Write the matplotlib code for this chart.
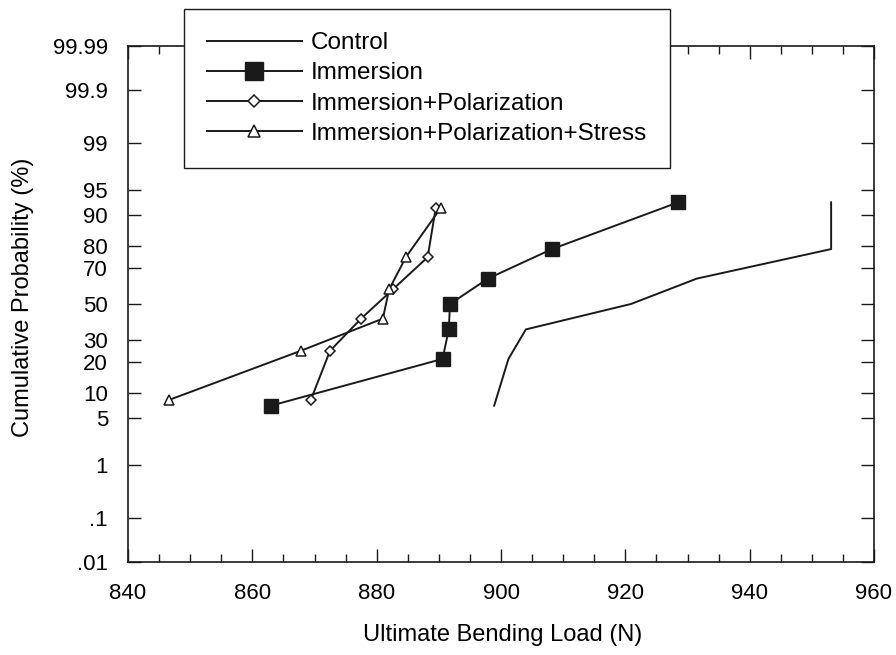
import numpy as np
import matplotlib
matplotlib.use('Agg')
import matplotlib.pyplot as plt
from matplotlib.ticker import FixedLocator, MultipleLocator, NullLocator
from statistics import NormalDist

plt.rcParams['font.family'] = ['Liberation Sans', 'DejaVu Sans']

# cumulative probability (%) for each rank
prob6 = [8.33, 25.0, 41.67, 58.33, 75.0, 91.67]
prob7 = [7.14, 21.43, 35.71, 50.0, 64.29, 78.57, 92.86]

control = [898.9, 901.2, 904.0, 920.9, 931.5, 953.1, 953.1]
immersion = [863.0, 890.6, 891.6, 891.8, 897.9, 908.2, 928.5]
imm_pol = [869.4, 872.5, 877.5, 882.6, 888.2, 889.5]
imm_pol_stress = [846.6, 867.8, 881.0, 882.0, 884.7, 890.3]

ytick_vals = [0.01, 0.1, 1, 5, 10, 20, 30, 50, 70, 80, 90, 95, 99, 99.9, 99.99]
ytick_labels = ['.01', '.1', '1', '5', '10', '20', '30', '50', '70', '80', '90', '95', '99', '99.9', '99.99']

nd = NormalDist()


def _p2z(p):
    if not np.isfinite(p):
        return np.nan
    return nd.inv_cdf(min(max(p / 100.0, 1e-9), 1 - 1e-9))


def _z2p(z):
    if not np.isfinite(z):
        return np.nan
    return nd.cdf(z) * 100.0


_ppf = np.vectorize(_p2z, otypes=[float])
_cdf = np.vectorize(_z2p, otypes=[float])


def fwd(p):
    return _ppf(np.asarray(p, dtype=float))


def inv(z):
    return _cdf(np.asarray(z, dtype=float))


fig = plt.figure(figsize=(8.96, 6.55), dpi=100)
ax = fig.add_axes([128 / 896, 1 - 562 / 655, (874 - 128) / 896, (562 - 46) / 655])
ax.set_yscale('function', functions=(fwd, inv))

lc = '#1a1a1a'
ax.plot(control, prob7, color=lc, lw=1.4, label='Control')
ax.plot(immersion, prob7, color=lc, lw=1.4, marker='s', ms=9.4, mfc=lc, mec=lc,
        label='Immersion')
ax.plot(imm_pol, prob6, color=lc, lw=1.4, marker='D', ms=4.8, mfc='white', mec=lc,
        mew=1.1, label='Immersion+Polarization')
ax.plot(imm_pol_stress, prob6, color=lc, lw=1.4, marker='^', ms=6.8, mfc='white', mec=lc,
        mew=1.1, label='Immersion+Polarization+Stress')

ax.set_xlim(840, 960)
ax.set_ylim(0.01, 99.99)
ax.xaxis.set_major_locator(MultipleLocator(20))
ax.xaxis.set_minor_locator(MultipleLocator(5))
ax.yaxis.set_major_locator(FixedLocator(ytick_vals))
ax.set_yticklabels(ytick_labels)
ax.yaxis.set_minor_locator(NullLocator())

ax.tick_params(which='both', direction='in', top=True, right=True, labelsize=16,
               color=lc, width=1.0)
ax.tick_params(which='major', length=9.4)
ax.tick_params(which='minor', length=5.6)
ax.tick_params(axis='x', pad=15)
ax.tick_params(axis='y', pad=14.4)
for s in ax.spines.values():
    s.set_linewidth(1.2)
    s.set_color(lc)

ax.set_xlabel('Ultimate Bending Load (N)', fontsize=17)
ax.set_ylabel('Cumulative Probability (%)', fontsize=17)
ax.xaxis.set_label_coords(0.5027, -0.120)
ax.yaxis.set_label_coords(-0.126, 0.5136)

leg = ax.legend(loc='upper left', bbox_to_anchor=(184 / 896, 1 - 9 / 655),
                bbox_transform=fig.transFigure, borderaxespad=0, fontsize=17.5,
                frameon=True, fancybox=False, edgecolor=lc, framealpha=1,
                handlelength=3.9, handletextpad=0.37, labelspacing=0.34,
                borderpad=0.95, numpoints=1, markerscale=1.35)
leg.get_frame().set_linewidth(1.0)
leg.set_zorder(5)

fig.savefig('out.png', dpi=100)
